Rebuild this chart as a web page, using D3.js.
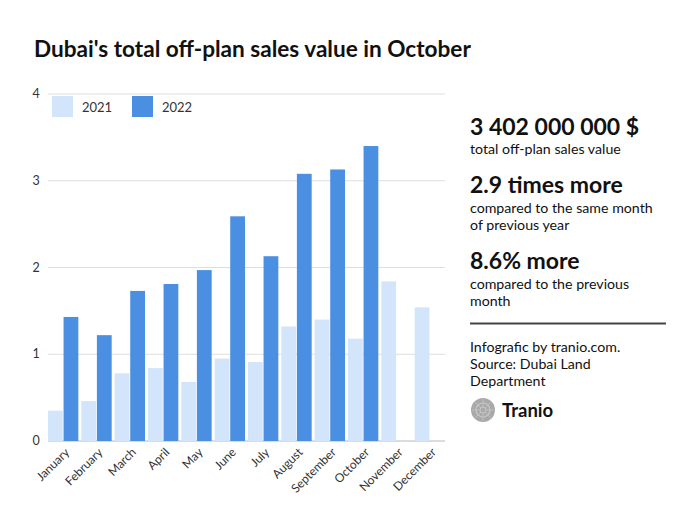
<!DOCTYPE html>
<html><head><meta charset="utf-8">
<script src="https://cdn.jsdelivr.net/npm/d3@7"></script>
<style>
html,body{margin:0;padding:0;background:#fff;}
svg text{font-family:"Lato","Open Sans",sans-serif;}
</style></head>
<body><svg id="c" width="693" height="520"></svg>
<script>
const months = ["January","February","March","April","May","June","July","August","September","October","November","December"];
const series = ["2021","2022"];
const values2021 = [0.35,0.46,0.78,0.84,0.68,0.95,0.91,1.32,1.40,1.18,1.84,1.54];
const values2022 = [1.43,1.22,1.73,1.81,1.97,2.59,2.13,3.08,3.13,3.40,null,null];
const yTicks = [0,1,2,3,4];
const colors = ["#d3e5fa","#4a8fe1"];

const svg = d3.select("#c");
svg.append("rect").attr("width",693).attr("height",520).attr("fill","#fff");

const m = {l:48, r:248, t:94, b:79};
const W = 693, H = 520;
const x = d3.scaleBand().domain(months).range([m.l, W-m.r]).paddingInner(0.09).paddingOuter(0.0);
const x2 = d3.scaleBand().domain(series).range([0, x.bandwidth()]).paddingInner(0.05);
const y = d3.scaleLinear().domain([0,4]).range([H-m.b, m.t]);

// title
svg.append("text").attr("x",34).attr("y",57).attr("font-size",22.6).attr("font-weight",700).attr("fill","#111")
  .text("Dubai's total off-plan sales value in October");

// grid
const g = svg.append("g");
g.selectAll("line.grid").data(yTicks).join("line")
  .attr("x1",m.l).attr("x2",W-m.r).attr("y1",d=>y(d)).attr("y2",d=>y(d))
  .attr("stroke",d=>d===0?"#b8b8b8":"#dedede").attr("stroke-width",1);
g.selectAll("text.yl").data(yTicks).join("text")
  .attr("x",36).attr("y",d=>y(d)+4).attr("text-anchor","middle").attr("font-size",12.5).attr("fill","#333")
  .text(d=>d);

// bars
const data = months.map((mo,i)=>({mo, vals:[values2021[i],values2022[i]]}));
const groups = g.selectAll("g.m").data(data).join("g").attr("transform",d=>`translate(${x(d.mo)},0)`);
groups.selectAll("rect").data(d=>d.vals.map((v,j)=>({v,s:series[j],j})).filter(o=>o.v!=null)).join("rect")
  .attr("x",o=>x2(o.s)).attr("width",x2.bandwidth())
  .attr("y",o=>y(o.v)).attr("height",o=>y(0)-y(o.v))
  .attr("fill",o=>colors[o.j]);

// x labels
g.selectAll("text.xl").data(months).join("text")
  .attr("transform",d=>`translate(${x(d)+x.bandwidth()/2+7},${y(0)+12}) rotate(-45)`)
  .attr("text-anchor","end").attr("font-size",12).attr("fill","#333")
  .text(d=>d);

// legend
const lg = svg.append("g");
const lx = [52,132];
series.forEach((s,i)=>{
  lg.append("rect").attr("x",lx[i]).attr("y",96).attr("width",21).attr("height",21).attr("fill",colors[i]);
  lg.append("text").attr("x",lx[i]+30).attr("y",112).attr("font-size",13).attr("fill","#333").text(s);
});

// right panel
const rp = svg.append("g").attr("fill","#111");
const tx = 470;
const lines = [
  {t:"3 402 000 000 $", y:135, s:23, w:700},
  {t:"total off-plan sales value", y:154, s:14.2, w:400},
  {t:"2.9 times more", y:193, s:23, w:700},
  {t:"compared to the same month", y:213, s:14.2, w:400},
  {t:"of previous year", y:230, s:14.2, w:400},
  {t:"8.6% more", y:269, s:23, w:700},
  {t:"compared to the previous", y:289, s:14.2, w:400},
  {t:"month", y:306, s:14.2, w:400},
  {t:"Infografic by tranio.com.", y:352, s:14.2, w:400},
  {t:"Source: Dubai Land", y:369, s:14.2, w:400},
  {t:"Department", y:386, s:14.2, w:400}
];
lines.forEach(l=>rp.append("text").attr("x",tx).attr("y",l.y).attr("font-size",l.s).attr("font-weight",l.w).text(l.t));
svg.append("line").attr("x1",470).attr("x2",666).attr("y1",323.5).attr("y2",323.5).attr("stroke","#444").attr("stroke-width",2.2);

// logo
const logo = svg.append("g").attr("transform","translate(483,410)");
logo.append("circle").attr("r",12).attr("fill","#a9a9a9");
logo.append("circle").attr("r",7).attr("fill","none").attr("stroke","#c8c8c8").attr("stroke-width",1.2);
logo.append("circle").attr("r",3).attr("fill","none").attr("stroke","#c8c8c8").attr("stroke-width",1);
d3.range(8).forEach(k=>{
  const a = k*Math.PI/4;
  logo.append("line").attr("x1",3*Math.cos(a)).attr("y1",3*Math.sin(a)).attr("x2",11*Math.cos(a)).attr("y2",11*Math.sin(a)).attr("stroke","#c4c4c4").attr("stroke-width",0.8);
});
svg.append("text").attr("x",502).attr("y",417).attr("font-size",18.5).attr("font-weight",700).attr("fill","#111").text("Tranio");
</script></body></html>
